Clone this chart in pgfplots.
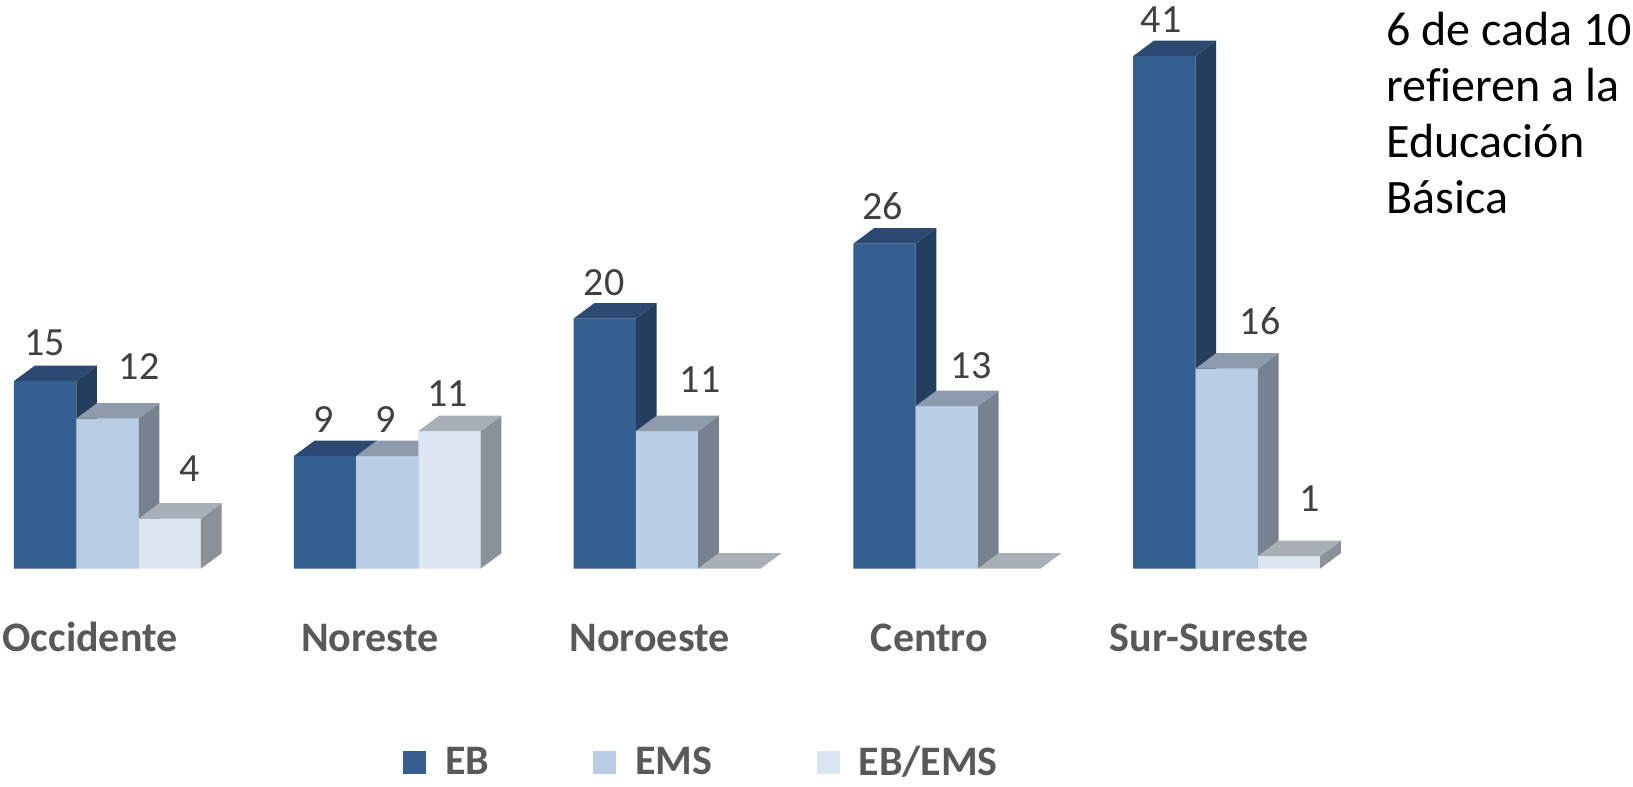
\documentclass[border=0pt]{standalone}
\usepackage{fontspec}
\setmainfont{Carlito}[Ligatures={NoCommon}]
\usepackage{pgfplots}
\usepackage{pgfplotstable}
\pgfplotsset{compat=1.18}

\definecolor{EBf}{HTML}{365F91}
\definecolor{EBs}{HTML}{233E5F}
\definecolor{EBt}{HTML}{2B4971}
\definecolor{EMSf}{HTML}{B9CDE5}
\definecolor{EMSs}{HTML}{76828F}
\definecolor{EMSt}{HTML}{8E9BAC}
\definecolor{EEf}{HTML}{DCE6F2}
\definecolor{EEs}{HTML}{8A9199}
\definecolor{EEt}{HTML}{A8AFB7}
\definecolor{valgray}{HTML}{404040}
\definecolor{catgray}{HTML}{595959}

\pgfplotstableread{
g EB EMS EBEMS
0 15 12 4
1 9 9 11
2 20 11 0
3 26 13 0
4 41 16 1
}\datatable

\pgfplotstableread{
x y label
-0.2232 17.02 15
0.1128 15.13 12
0.2950 6.94 4
0.7739 10.89 9
0.9955 10.91 9
1.2171 12.94 11
1.7747 21.87 20
2.1178 14.06 11
2.7707 27.93 26
3.0863 15.21 13
3.7654 42.89 41
4.1192 18.75 16
4.2979 4.59 1
}\labeltable

\def\bwid{0.2227}
\def\ddx{0.0740}
\def\ddy{1.232}

% side and top faces of the 3D bars of one series
\newcommand\drawfaces[4]{%
  \pgfplotsforeachungrouped \rr in {0,...,4} {%
    \pgfplotstablegetelem{\rr}{#1}\of\datatable
    \let\val\pgfplotsretval
    \pgfmathsetmacro\xa{\rr-1.5*\bwid+#2*\bwid}%
    \pgfmathsetmacro\xb{\xa+\bwid}%
    \pgfmathsetmacro\xc{\xb+\ddx}%
    \pgfmathsetmacro\xd{\xa+\ddx}%
    \pgfmathsetmacro\yt{\val+\ddy}%
    \edef\temp{%
      \noexpand\addplot[forget plot, fill=#3, draw=none] coordinates {(\xb,0) (\xc,\ddy) (\xc,\yt) (\xb,\val)};
      \noexpand\addplot[forget plot, fill=#4, draw=none] coordinates {(\xa,\val) (\xd,\yt) (\xc,\yt) (\xb,\val)};
    }%
    \temp
  }%
}

\begin{document}
\begin{tikzpicture}
\begin{axis}[
  width=816.5pt, height=393pt, scale only axis,
  xmin=-0.3840, xmax=5.4523, ymin=-17.408, ymax=45.472,
  enlargelimits=false, clip=false,
  axis line style={draw=none},
  major tick length=0pt,
  ytick=\empty,
  xtick={0,1,2,3,4},
  xticklabels={Occidente,Noreste,Noroeste,Centro,Sur-Sureste},
  xticklabel style={font=\bfseries\fontsize{21}{25}\selectfont, text=catgray,
    anchor=base, yshift=67.5pt, xshift=-8.75pt, inner sep=0pt},
  legend columns=3,
  legend style={at={(0.429,0.03)}, anchor=center, draw=none, fill=none,
    inner sep=0pt, font=\bfseries\fontsize{21}{25}\selectfont,
    text=catgray,
    nodes={inner sep=0pt},
    /tikz/every odd column/.append style={column sep=9.5pt},
    /tikz/every even column/.append style={column sep=52pt}},
  legend image code/.code={\fill[#1] (0pt,-5.6pt) rectangle (11.5pt,5.9pt);},
]
\addplot[ybar, bar width=0.2227, bar shift=-0.2227, fill=EBf, draw=none] table[x=g, y=EB] {\datatable};
\drawfaces{EB}{0}{EBs}{EBt}
\addplot[ybar, bar width=0.2227, bar shift=0, fill=EMSf, draw=none] table[x=g, y=EMS] {\datatable};
\drawfaces{EMS}{1}{EMSs}{EMSt}
\addplot[ybar, bar width=0.2227, bar shift=0.2227, fill=EEf, draw=none] table[x=g, y=EBEMS] {\datatable};
\drawfaces{EBEMS}{2}{EEs}{EEt}

\addplot[forget plot, draw=none, mark=none, nodes near coords, point meta=explicit symbolic,
  nodes near coords style={anchor=base, inner sep=0pt, text=valgray,
    font=\fontsize{20}{24}\selectfont}]
  table[x=x, y=y, meta=label] {\labeltable};

\legend{EB, EMS, EB/EMS}

\node[anchor=base west, inner sep=0pt, font=\fontsize{24}{28}\selectfont] at (axis cs:4.5695,41.87) {6 de cada 10};
\node[anchor=base west, inner sep=0pt, font=\fontsize{24}{28}\selectfont] at (axis cs:4.5695,37.39) {refieren a la};
\node[anchor=base west, inner sep=0pt, font=\fontsize{24}{28}\selectfont] at (axis cs:4.5695,32.91) {Educación};
\node[anchor=base west, inner sep=0pt, font=\fontsize{24}{28}\selectfont] at (axis cs:4.5695,28.43) {Básica};
\end{axis}
\end{tikzpicture}
\end{document}
